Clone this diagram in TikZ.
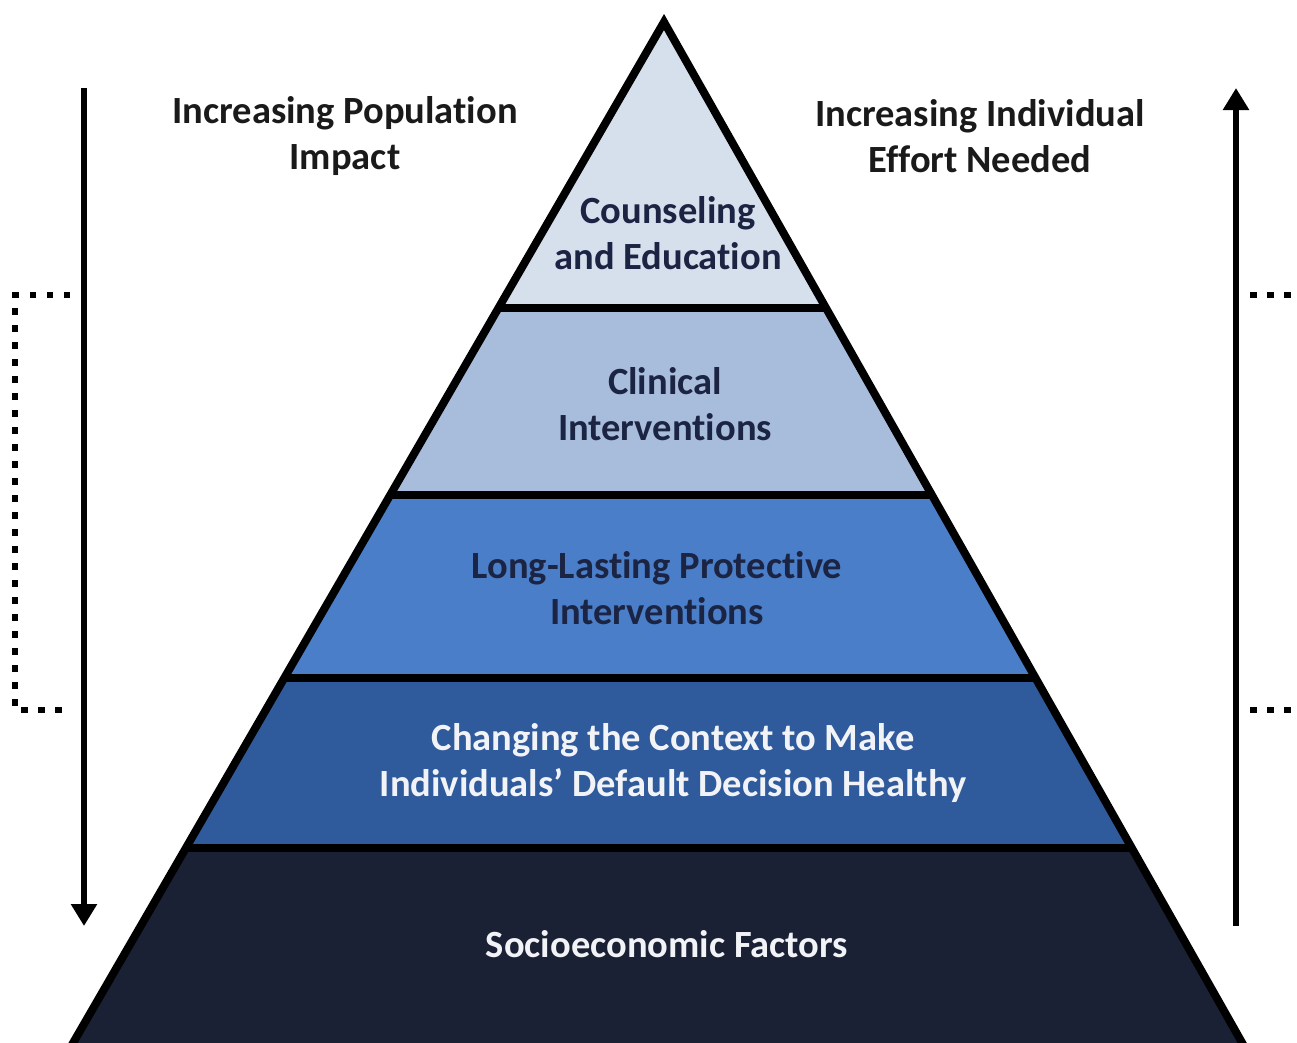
\documentclass[tikz,border=0pt]{standalone}
\usepackage{fontspec}
\setmainfont{Carlito}[RawFeature={-liga}]
\usetikzlibrary{arrows.meta}
\definecolor{cA}{HTML}{D6E0ED}
\definecolor{cB}{HTML}{A8BDDC}
\definecolor{cC}{HTML}{4A7EC9}
\definecolor{cD}{HTML}{2F5A9C}
\definecolor{cE}{HTML}{1B2135}
\definecolor{darktxt}{HTML}{1B2442}
\definecolor{lighttxt}{HTML}{F2F3F7}
\definecolor{headtxt}{HTML}{1A1A1A}
\tikzset{
  lbl/.style={font=\fontsize{38.5}{46}\selectfont\bfseries, align=center, inner sep=0pt},
  sepline/.style={line width=8pt, black},
  outline/.style={line width=8pt, black, line join=miter},
  bigarrow/.style={line width=6pt, -{Triangle[width=25pt,length=22pt]}},
  dotline/.style={line width=6.5pt, dash pattern=on 6.5pt off 10.5pt, line cap=butt}
}
\begin{document}
\begin{tikzpicture}[x=1pt,y=-1pt]
\useasboundingbox (0,0) rectangle (1297,1042);
\coordinate (apex) at (664,22);
\coordinate (bl) at (62,1062);
\coordinate (br) at (1253,1062);
\begin{scope}
  \clip (0,0) rectangle (1297,1042);
  \begin{scope}
    \clip (apex) -- (bl) -- (br) -- cycle;
    \fill[cA] (0,0) rectangle (1297,308);
    \fill[cB] (0,308) rectangle (1297,495);
    \fill[cC] (0,495) rectangle (1297,678);
    \fill[cD] (0,678) rectangle (1297,848);
    \fill[cE] (0,848) rectangle (1297,1070);
    \draw[sepline] (0,308) -- (1297,308);
    \draw[sepline] (0,495) -- (1297,495);
    \draw[sepline] (0,678) -- (1297,678);
    \draw[sepline] (0,848) -- (1297,848);
  \end{scope}
  \draw[outline] (apex) -- (bl) -- (br) -- cycle;
\end{scope}

% layer labels
\node[lbl, text=darktxt] (l1) at (668,233) {Counseling\\and Education};
\node[lbl, text=darktxt] (l2) at (665,404) {Clinical\\Interventions};
\node[lbl, text=darktxt] (l3) at (657,588) {Long-Lasting Protective\\Interventions};
\node[lbl, text=lighttxt] (l4) at (673,763) {Changing the Context to Make\\Individuals’ Default Decision Healthy};
\node[lbl, text=lighttxt] (l5) at (667,944) {Socioeconomic Factors};

% headers
\node[lbl, text=headtxt] (hl) at (345,136) {Increasing Population\\Impact};
\node[lbl, text=headtxt] (hr) at (980,136) {Increasing Individual\\Effort Needed};

% arrows
\coordinate (la) at (84,88);
\coordinate (lb) at (84,926);
\coordinate (ra) at (1236,926);
\coordinate (rb) at (1236,88);
\draw[bigarrow] (la) -- (lb);
\draw[bigarrow] (ra) -- (rb);

% dotted brackets
\coordinate (d1) at (70,295);
\coordinate (d2) at (15,295);
\coordinate (d3) at (15,710);
\coordinate (d4) at (70,710);
\draw[dotline] (d1) -- (d2) -- (d3) -- (d4);
\coordinate (e1) at (1250,295);
\coordinate (e2) at (1297,295);
\coordinate (e3) at (1250,710);
\coordinate (e4) at (1297,710);
\draw[dotline] (e1) -- (e2);
\draw[dotline] (e3) -- (e4);
\end{tikzpicture}
\end{document}
